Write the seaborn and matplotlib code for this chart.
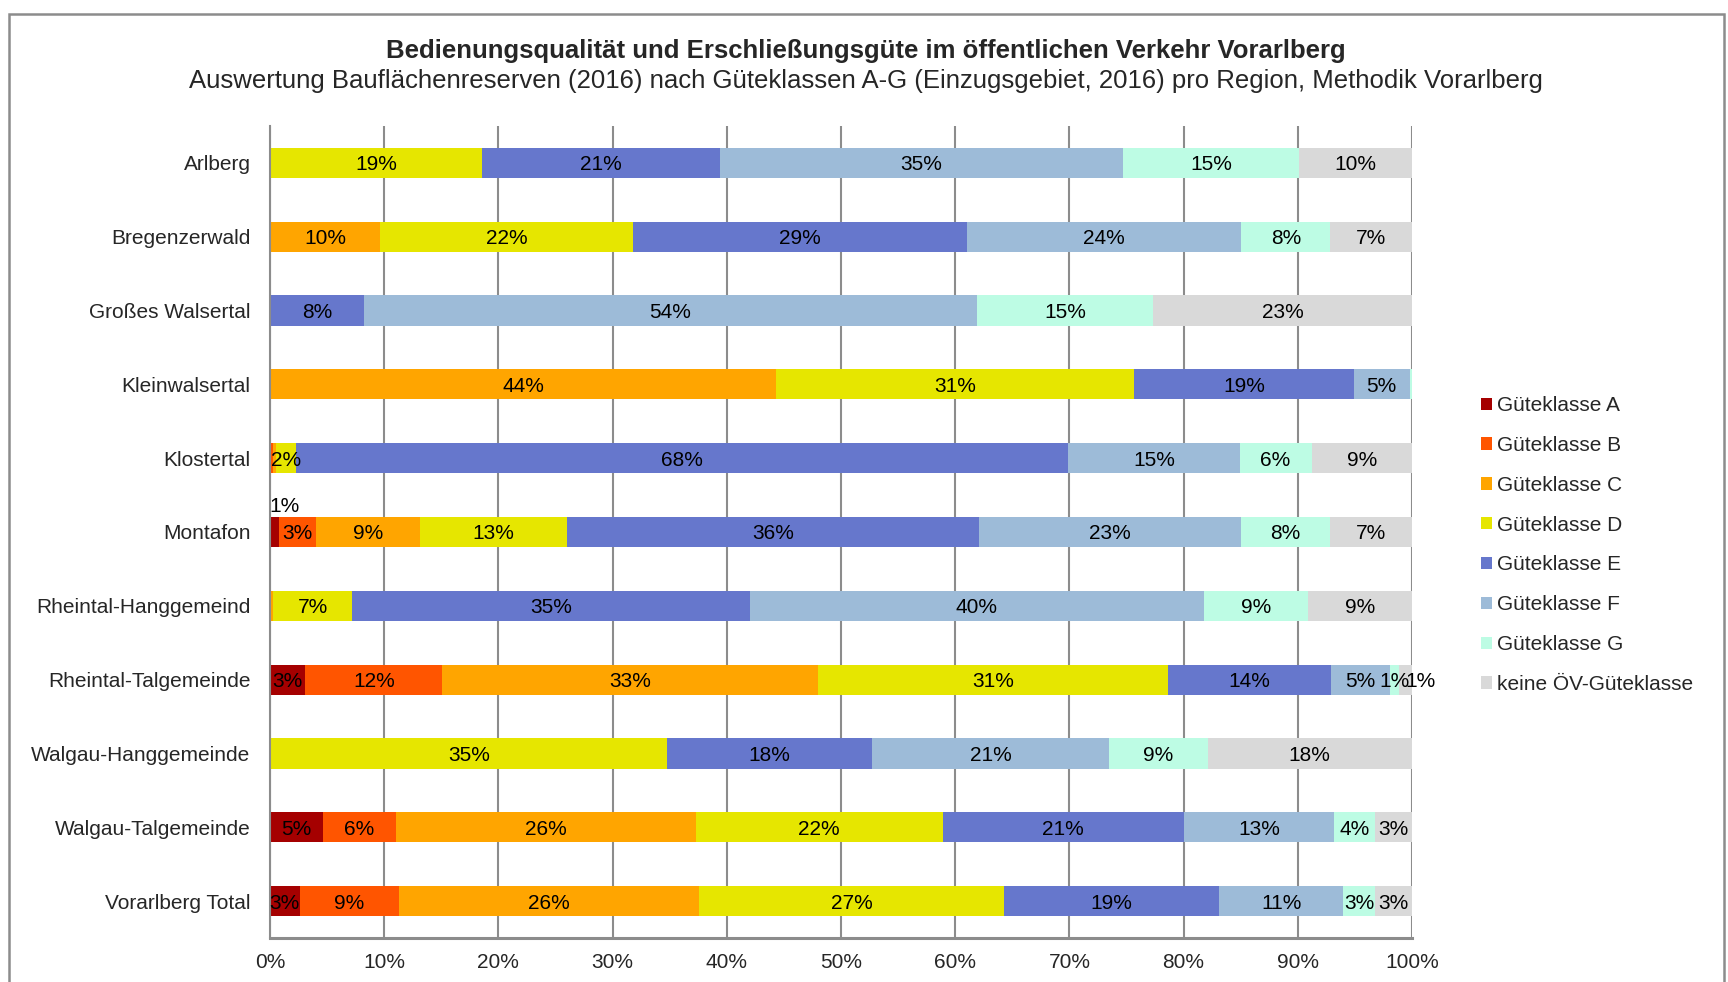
import numpy as np
import pandas as pd
import matplotlib
matplotlib.use("Agg")
import matplotlib.pyplot as plt
from matplotlib.patches import Patch, Rectangle
import seaborn as sns

# ---------------- data ----------------
regions = ["Arlberg", "Bregenzerwald", "Großes Walsertal", "Kleinwalsertal",
           "Klostertal", "Montafon", "Rheintal-Hanggemeind", "Rheintal-Talgemeinde",
           "Walgau-Hanggemeinde", "Walgau-Talgemeinde", "Vorarlberg Total"]
classes = ["Güteklasse A", "Güteklasse B", "Güteklasse C", "Güteklasse D",
           "Güteklasse E", "Güteklasse F", "Güteklasse G", "keine ÖV-Güteklasse"]

klasse_A = [0, 0, 0, 0, 0, 0.8, 0, 3.1, 0, 4.6, 2.6]
klasse_B = [0, 0, 0, 0, 0.3, 3.2, 0, 12.0, 0, 6.4, 8.7]
klasse_C = [0, 9.65, 0, 44.3, 0.2, 9.1, 0.3, 32.9, 0, 26.3, 26.3]
klasse_D = [18.6, 22.1, 0, 31.4, 1.8, 12.9, 6.9, 30.6, 34.8, 21.6, 26.7]
klasse_E = [20.8, 29.3, 8.2, 19.2, 67.6, 36.1, 34.8, 14.3, 17.9, 21.1, 18.8]
klasse_F = [35.3, 24.0, 53.7, 4.9, 15.0, 22.9, 39.8, 5.2, 20.8, 13.2, 10.9]
klasse_G = [15.4, 7.8, 15.4, 0.2, 6.3, 7.8, 9.1, 0.8, 8.6, 3.6, 2.8]
keine = [9.9, 7.15, 22.7, 0, 8.8, 7.2, 9.1, 1.1, 17.9, 3.2, 3.2]

series = [klasse_A, klasse_B, klasse_C, klasse_D, klasse_E, klasse_F, klasse_G, keine]
colors = ["#A50000", "#FF5500", "#FFA500", "#E6E600", "#6677CC", "#9DBBD8", "#BDFCE4", "#D9D9D9"]

# label placement tweaks (region, class index) -> (dx in %, dy in rows)
label_offsets = {("Montafon", 0): (0.9, -0.37), ("Rheintal-Talgemeinde", 7): (1.3, 0.0)}

# ---------------- figure ----------------
sns.set_style("white")
plt.rcParams["font.family"] = ["Liberation Sans", "DejaVu Sans"]

fig = plt.figure(figsize=(17.28, 9.82), dpi=100)
ax = fig.add_axes([270 / 1728, 1 - 938 / 982, (1412 - 270) / 1728, (938 - 126) / 982])

vals = np.array(series)            # shape (classes, regions)
cum = np.cumsum(vals, axis=0)      # cumulative ends

df = pd.DataFrame({"region": regions})
for k in range(len(classes) - 1, -1, -1):
    df["end"] = cum[k]
    sns.barplot(data=df, x="end", y="region", order=regions, color=colors[k],
                orient="h", width=0.41, linewidth=0, saturation=1, ax=ax, zorder=2)

# data labels
for k in range(len(classes)):
    for i, r in enumerate(regions):
        v = vals[k, i]
        if v < 0.5:
            continue
        x = cum[k, i] - v / 2
        dx, dy = label_offsets.get((r, k), (0, 0))
        ax.text(x + dx, i + dy, f"{v:.0f}%", ha="center", va="center_baseline",
                fontsize=15, color="black", zorder=5)

ax.set_xlim(0, 100)
ax.set_ylim(10.5, -0.5)
ax.set_xlabel("")
ax.set_ylabel("")
ax.set_xticks(np.arange(0, 101, 10))
ax.set_xticklabels([f"{t}%" for t in range(0, 101, 10)], fontsize=15)
ax.set_yticks(np.arange(len(regions)))
ax.set_yticklabels(regions, fontsize=15)
ax.set_yticks(np.arange(-0.5, len(regions), 1), minor=True)

grid_c = "#8C8C8C"
ax.xaxis.grid(True, color=grid_c, linewidth=1.5, zorder=0)
ax.yaxis.grid(False)
ax.set_axisbelow(True)
for s in ["top", "right"]:
    ax.spines[s].set_visible(False)
ax.spines["left"].set_color(grid_c)
ax.spines["left"].set_linewidth(1.5)
ax.spines["bottom"].set_color(grid_c)
ax.spines["bottom"].set_linewidth(2.2)
ax.tick_params(axis="y", which="major", length=0, pad=14)
ax.tick_params(axis="y", which="minor", length=4.5, width=1.5, color=grid_c, direction="out")
ax.tick_params(axis="x", which="major", length=3.6, width=1.5, color=grid_c, pad=7.5)

# legend
handles = [Patch(facecolor=c, edgecolor="none", label=l) for c, l in zip(colors, classes)]
fig.legend(handles=handles, loc="center left", bbox_to_anchor=(1481 / 1728, 1 - 545 / 982),
           frameon=False, fontsize=15, handlelength=0.53, handleheight=0.53,
           handletextpad=0.25, labelspacing=1.0, borderpad=0, borderaxespad=0)

# titles
fig.text(0.501, 1 - 51 / 982, "Bedienungsqualität und Erschließungsgüte im öffentlichen Verkehr Vorarlberg",
         ha="center", va="center", fontsize=18.5, fontweight="bold")
fig.text(0.501, 1 - 81 / 982,
         "Auswertung Bauflächenreserven (2016) nach Güteklassen A-G (Einzugsgebiet, 2016) pro Region, Methodik Vorarlberg",
         ha="center", va="center", fontsize=18.5)

# outer frame
fig.patches.append(Rectangle((9 / 1728, -0.1), (1724 - 9) / 1728, 1.1 - 14 / 982,
                             transform=fig.transFigure, fill=False, edgecolor=grid_c,
                             linewidth=1.8, zorder=0))

fig.savefig("out.png", dpi=100)
